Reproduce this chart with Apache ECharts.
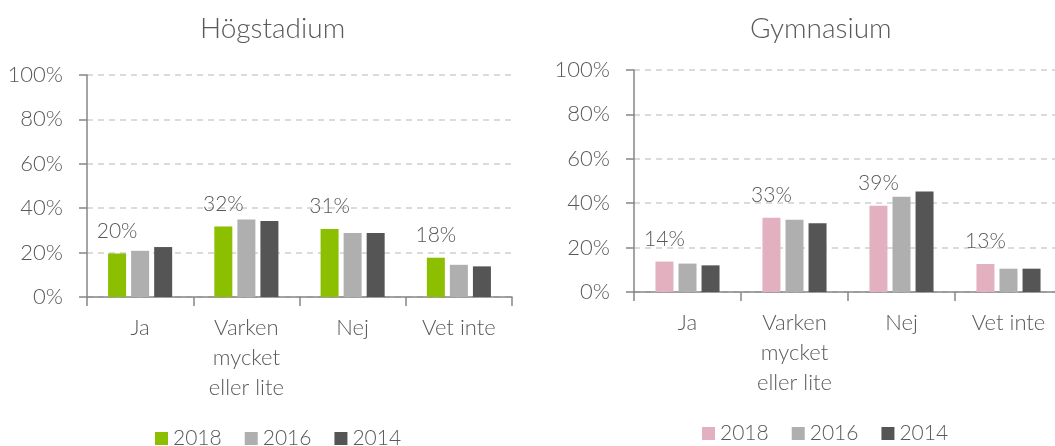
<!DOCTYPE html>
<html>
<head>
    <meta charset="utf-8">
    <script src="https://cdn.jsdelivr.net/npm/echarts@6/dist/echarts.min.js"></script>
    <style>
        html, body { margin: 0; padding: 0; background: #fff; overflow: hidden; }
        #wrap { position: relative; width: 1055px; height: 446px; overflow: hidden; }
        #left-echarts { position: absolute; left: 0; top: 0; width: 527px; height: 446px; }
        #right-echarts { position: absolute; left: 527px; top: 0; width: 535px; height: 446px; }
    </style>
</head>
<body>
<div id="wrap">
    <div id="left-echarts"></div>
    <div id="right-echarts"></div>
</div>

<script>
  // kategorier och år
  var categories = ['Ja', 'Varken\nmycket\neller lite', 'Nej', 'Vet inte'];
  var years = ['2018', '2016', '2014'];
  var yTicks = [0, 20, 40, 60, 80, 100];

  // Högstadium (procent)
  var hogstadium2018 = [19.6, 31.8, 30.6, 17.7];
  var hogstadium2016 = [20.8, 34.9, 28.8, 14.5];
  var hogstadium2014 = [22.5, 34.2, 28.8, 13.8];

  // Gymnasium (procent)
  var gymnasium2018 = [13.7, 33.4, 38.9, 12.6];
  var gymnasium2016 = [12.8, 32.6, 42.9, 10.5];
  var gymnasium2014 = [12.0, 31.0, 45.3, 10.5];

  var FONT = 'Lato';
  var WEIGHT = 300;
  var TEXT = '#595959';

  function chartShow(domId, title, color2018, values, grid, titleLeft, legendLeft, legendTop) {
    var myChart = echarts.init(document.getElementById(domId));
    var colors = [color2018, '#afafaf', '#555555'];
    var series = [];
    for (var i = 0; i < years.length; i++) {
      var s = {
        name: years[i],
        type: 'bar',
        data: values[i],
        barWidth: 18,
        barGap: '28%',
        itemStyle: { color: colors[i] }
      };
      // bara 2018 har värdeetikett
      if (i === 0) {
        s.label = {
          show: true,
          position: 'top',
          distance: 12,
          color: TEXT,
          fontFamily: FONT,
          fontWeight: WEIGHT,
          fontSize: 21,
          formatter: function (p) { return Math.round(p.value) + '%'; }
        };
      }
      series.push(s);
    }
    var option = {
      animation: false,
      textStyle: { fontFamily: FONT },
      title: {
        text: title,
        left: titleLeft,
        top: 10,
        textStyle: { color: TEXT, fontFamily: FONT, fontSize: 28, fontWeight: WEIGHT }
      },
      legend: {
        data: years,
        left: legendLeft,
        top: legendTop,
        icon: 'rect',
        itemWidth: 13,
        itemHeight: 13,
        itemGap: 23,
        textStyle: { color: TEXT, fontFamily: FONT, fontWeight: WEIGHT, fontSize: 21 }
      },
      grid: grid,
      xAxis: {
        type: 'category',
        data: categories,
        axisLine: { lineStyle: { color: '#868686', width: 1.5 } },
        axisTick: { show: true, length: 9, interval: 0, lineStyle: { color: '#868686', width: 1.5 } },
        axisLabel: { color: TEXT, fontFamily: FONT, fontWeight: WEIGHT, fontSize: 22, lineHeight: 30, margin: 16, interval: 0 }
      },
      yAxis: {
        type: 'value',
        min: yTicks[0],
        max: yTicks[yTicks.length - 1],
        interval: 20,
        axisLine: { show: true, lineStyle: { color: '#868686', width: 1.5 } },
        axisTick: { show: true, length: 8, lineStyle: { color: '#868686', width: 1.5 } },
        axisLabel: { color: TEXT, fontFamily: FONT, fontWeight: WEIGHT, fontSize: 22, margin: 24, formatter: '{value}%' },
        splitLine: { lineStyle: { color: '#d0d0d0', type: [6, 5], width: 1.5 } }
      },
      series: series
    };
    myChart.setOption(option);
  }

  chartShow('left-echarts', 'Högstadium', '#8cbf00',
    [hogstadium2018, hogstadium2016, hogstadium2014],
    { left: 87, right: 15, top: 75, bottom: 149 }, 195, 150, 423);

  chartShow('right-echarts', 'Gymnasium', '#e3b0c0',
    [gymnasium2018, gymnasium2016, gymnasium2014],
    { left: 107, right: -6, top: 70, bottom: 154 }, 218, 170, 418);
</script>
</body>
</html>
